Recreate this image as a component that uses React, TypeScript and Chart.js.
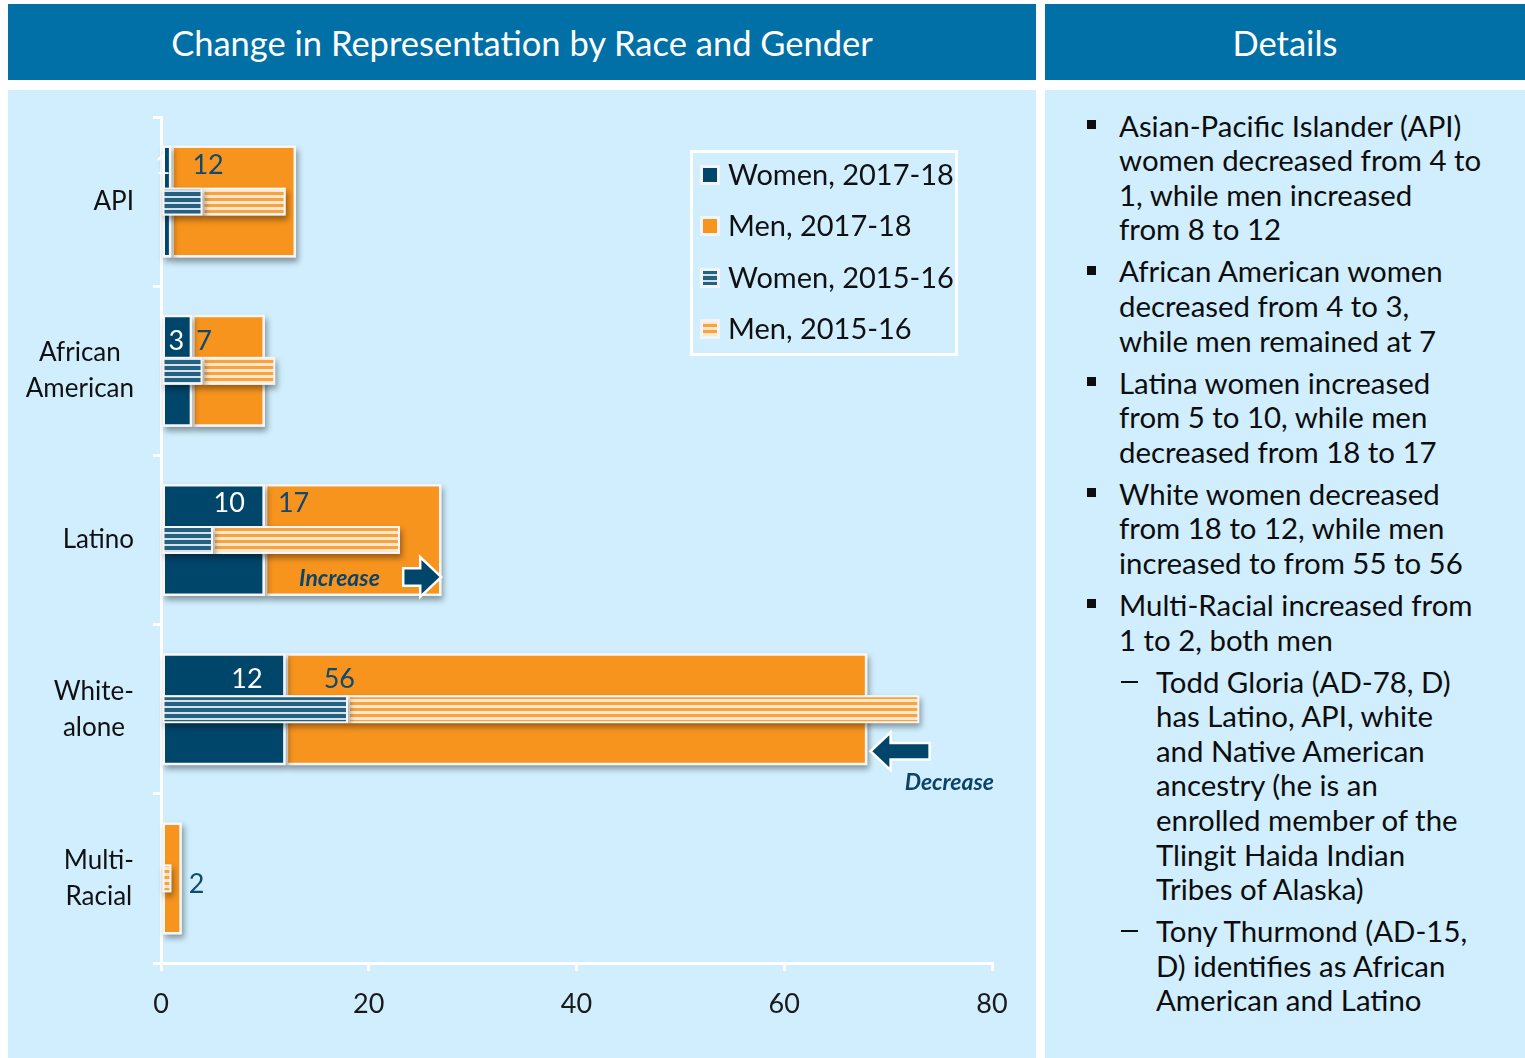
import React, { useEffect, useRef } from "react";
import { Chart, registerables } from "chart.js";
Chart.register(...registerables);

// ---------- data ----------
const categories: string[][] = [["API"], ["African", "American"], ["Latino"], ["White-", "alone"], ["Multi-", "Racial"]];
const women1718 = [1, 3, 10, 12, 0];
const men1718 = [12, 7, 17, 56, 2];
const women1516 = [4, 4, 5, 18, 0];
const men1516 = [8, 7, 18, 55, 1];
const xTicks = [0, 20, 40, 60, 80];
const seriesLabels = ["Women, 2017-18", "Men, 2017-18", "Women, 2015-16", "Men, 2015-16"];
const increaseText = "Increase";
const decreaseText = "Decrease";

// ---------- style ----------
const HEADER = "#0070A7";
const LIGHT = "#D0EEFD";
const NAVY = "#00466B";
const ORANGE = "#F7941E";
const LABEL_NAVY = "#0F4870";
const FONT = "Lato";
// per-label nudges (px) for the value labels
const womenLabelInset = [1, 8, 20, 23, 0];
const menLabelOffset = [21, 4, 13, 38, 0];
const labelRise = [36, 30, 37, 30, 0];

const details: { sub?: boolean; lines: string[] }[] = [
  { lines: ["Asian-Pacific Islander (API)", "women decreased from 4 to", "1, while men increased", "from 8 to 12"] },
  { lines: ["African American women", "decreased from 4 to 3,", "while men remained at 7"] },
  { lines: ["Latina women increased", "from 5 to 10, while men", "decreased from 18 to 17"] },
  { lines: ["White women decreased", "from 18 to 12, while men", "increased to from 55 to 56"] },
  { lines: ["Multi-Racial increased from", "1 to 2, both men"] },
  { sub: true, lines: ["Todd Gloria (AD-78, D)", "has Latino, API, white", "and Native American", "ancestry (he is an", "enrolled member of the", "Tlingit Haida Indian", "Tribes of Alaska)"] },
  { sub: true, lines: ["Tony Thurmond (AD-15,", "D) identifies as African", "American and Latino"] },
];

function blockArrow(ctx: CanvasRenderingContext2D, tipX: number, cy: number, dir: number, len: number, headLen: number, headH: number, shaftH: number) {
  const baseX = tipX - dir * len;
  const neckX = tipX - dir * headLen;
  ctx.save();
  ctx.beginPath();
  ctx.moveTo(baseX, cy - shaftH / 2);
  ctx.lineTo(neckX, cy - shaftH / 2);
  ctx.lineTo(neckX, cy - headH / 2);
  ctx.lineTo(tipX, cy);
  ctx.lineTo(neckX, cy + headH / 2);
  ctx.lineTo(neckX, cy + shaftH / 2);
  ctx.lineTo(baseX, cy + shaftH / 2);
  ctx.closePath();
  ctx.lineJoin = "miter";
  ctx.strokeStyle = "#ffffff";
  ctx.lineWidth = 5;
  ctx.stroke();
  ctx.fillStyle = NAVY;
  ctx.fill();
  ctx.restore();
}

function barRect(el: any) {
  const p = el.getProps(["x", "y", "base", "height"], true);
  const left = Math.min(p.x, p.base);
  const right = Math.max(p.x, p.base);
  return { left, right, top: p.y - p.height / 2, bottom: p.y + p.height / 2, y: p.y, height: p.height };
}

export default function App() {
  const ref = useRef<HTMLCanvasElement>(null);

  useEffect(() => {
    document.body.style.margin = "0";
    const canvas = ref.current!;
    const ctx0 = canvas.getContext("2d")!;
    const mkPattern = (a: string, b: string, aH: number, bH: number) => {
      const c = document.createElement("canvas");
      c.width = 4;
      c.height = aH + bH;
      const g = c.getContext("2d")!;
      g.fillStyle = a;
      g.fillRect(0, 0, 4, aH);
      g.fillStyle = b;
      g.fillRect(0, aH, 4, bH);
      return ctx0.createPattern(c, "repeat")!;
    };
    const womenPattern = mkPattern("#24607F", "#D3E2EC", 4, 2);
    const menPattern = mkPattern("#F7A440", "#FDE8CC", 3, 3);

    const shadowPlugin = {
      id: "shadows",
      beforeDatasetDraw(chart: any, args: any) {
        const ctx = chart.ctx;
        const ds = chart.data.datasets[args.index];
        ctx.save();
        ctx.shadowColor = "rgba(0,0,0,0.38)";
        ctx.shadowBlur = 6;
        ctx.shadowOffsetX = 2;
        ctx.shadowOffsetY = 4;
        ctx.fillStyle = "#f4f4f4";
        args.meta.data.forEach((el: any, i: number) => {
          if (!ds.data[i]) return;
          const r = barRect(el);
          ctx.fillRect(r.left, r.top, r.right - r.left, r.bottom - r.top);
        });
        ctx.restore();
      },
    };

    const decorPlugin = {
      id: "decor",
      afterDatasetsDraw(chart: any) {
        const ctx: CanvasRenderingContext2D = chart.ctx;
        const metaW = chart.getDatasetMeta(2);
        const metaM = chart.getDatasetMeta(3);
        const yScale = chart.scales.y;
        ctx.save();
        ctx.font = `27px ${FONT}`;
        ctx.textBaseline = "middle";
        // value labels
        categories.forEach((_, i) => {
          const cy = yScale.getPixelForValue(i);
          const last = i === categories.length - 1;
          if (women1718[i]) {
            const r = barRect(metaW.data[i]);
            ctx.fillStyle = "#ffffff";
            ctx.textAlign = "right";
            ctx.fillText(String(women1718[i]), r.right - womenLabelInset[i], cy - labelRise[i]);
          }
          if (men1718[i]) {
            const r = barRect(metaM.data[i]);
            ctx.fillStyle = LABEL_NAVY;
            ctx.textAlign = "left";
            if (last) ctx.fillText(String(men1718[i]), r.right + 7, cy + 6);
            else ctx.fillText(String(men1718[i]), r.left + menLabelOffset[i], cy - labelRise[i]);
          }
        });
        // Increase annotation (Latino)
        const lat = barRect(metaM.data[2]);
        const latCy = yScale.getPixelForValue(2) + 37;
        blockArrow(ctx, lat.right - 2, latCy, 1, 35, 18, 34, 15);
        ctx.font = `italic bold 23px ${FONT}`;
        ctx.fillStyle = "#0B4468";
        ctx.textAlign = "center";
        ctx.fillText(increaseText, lat.right - 102, latCy + 2);
        // Decrease annotation (White)
        const wh = barRect(metaM.data[3]);
        const whCy = yScale.getPixelForValue(3) + 42;
        blockArrow(ctx, wh.right + 5, whCy, -1, 56, 17, 32, 14);
        ctx.fillText(decreaseText, wh.right + 82, whCy + 31);
        ctx.restore();
      },
      afterDraw(chart: any) {
        const ctx: CanvasRenderingContext2D = chart.ctx;
        const yScale = chart.scales.y;
        ctx.save();
        // y category labels (block right aligned, lines centred)
        ctx.font = `26px ${FONT}`;
        ctx.fillStyle = "#111111";
        ctx.textBaseline = "middle";
        ctx.textAlign = "center";
        const rightEdge = chart.chartArea.left - 27;
        categories.forEach((lines, i) => {
          const cy = yScale.getPixelForValue(i);
          const w = Math.max(...lines.map((l) => ctx.measureText(l).width));
          const cx = rightEdge - w / 2;
          const lh = 36;
          lines.forEach((l, k) => {
            ctx.fillText(l, cx, cy + (k - (lines.length - 1) / 2) * lh);
          });
        });
        // legend
        const bx = 682, by = 60, bw = 268, bh = 206;
        ctx.strokeStyle = "#ffffff";
        ctx.lineWidth = 3;
        ctx.strokeRect(bx + 1.5, by + 1.5, bw - 3, bh - 3);
        const fills: any[] = [NAVY, ORANGE, womenPattern, menPattern];
        const rows = [85, 136, 188, 239];
        ctx.font = `29px ${FONT}`;
        ctx.textAlign = "left";
        seriesLabels.forEach((lab, i) => {
          const cy = rows[i];
          ctx.fillStyle = "#F2F5F7";
          ctx.fillRect(692, cy - 10, 20, 20);
          ctx.fillStyle = fills[i];
          ctx.fillRect(695, cy - 7, 14, 14);
          ctx.fillStyle = "#111111";
          ctx.fillText(lab, 720, cy + 1);
        });
        ctx.restore();
      },
    };

    let chart: Chart | null = null;
    let cancelled = false;
    const build = () => {
      if (cancelled) return;
      chart = new Chart(canvas, {
        type: "bar",
        data: {
          labels: categories.map((c) => c.join(" ")),
          datasets: [
            { label: seriesLabels[2], data: women1516, stack: "s1516", backgroundColor: womenPattern, borderColor: "#F6F6F6", borderWidth: 2, borderSkipped: false, barPercentage: 0.165, categoryPercentage: 1, grouped: false } as any,
            { label: seriesLabels[3], data: men1516, stack: "s1516", backgroundColor: menPattern, borderColor: "#F6F6F6", borderWidth: 2, borderSkipped: false, barPercentage: 0.165, categoryPercentage: 1, grouped: false } as any,
            { label: seriesLabels[0], data: women1718, stack: "s1718", backgroundColor: NAVY, borderColor: "#F6F6F6", borderWidth: 2.5, borderSkipped: false, barPercentage: 0.662, categoryPercentage: 1, grouped: false } as any,
            { label: seriesLabels[1], data: men1718, stack: "s1718", backgroundColor: ORANGE, borderColor: "#F6F6F6", borderWidth: 2.5, borderSkipped: false, barPercentage: 0.662, categoryPercentage: 1, grouped: false } as any,
          ],
        },
        options: {
          responsive: false,
          animation: false,
          indexAxis: "y",
          layout: { padding: { left: 0, top: 27, right: 44, bottom: 0 } },
          plugins: { legend: { display: false }, tooltip: { enabled: false } },
          scales: {
            x: {
              stacked: true,
              min: xTicks[0],
              max: xTicks[xTicks.length - 1],
              afterBuildTicks: (s: any) => { s.ticks = xTicks.map((v) => ({ value: v })); },
              ticks: { color: "#1a1a1a", font: { family: FONT, size: 27 }, padding: 17, maxRotation: 0 },
              grid: { drawOnChartArea: false, drawTicks: true, tickLength: 8, color: "#ffffff", lineWidth: 3 },
              border: { display: true, color: "#ffffff", width: 3 },
              afterFit: (s: any) => { s.height = 95; },
            } as any,
            y: {
              ticks: { display: false },
              grid: { offset: true, drawOnChartArea: false, drawTicks: true, tickLength: 8, color: "#ffffff", lineWidth: 3 },
              border: { display: true, color: "#ffffff", width: 3 },
              afterFit: (s: any) => { s.width = 153; },
            } as any,
          },
        },
        plugins: [shadowPlugin, decorPlugin],
      });
    };
    const fontsApi = (document as any).fonts;
    if (fontsApi && fontsApi.load) {
      Promise.all([fontsApi.load(`27px ${FONT}`), fontsApi.load(`italic bold 23px ${FONT}`)]).then(build, build);
    } else build();
    return () => {
      cancelled = true;
      if (chart) chart.destroy();
    };
  }, []);

  const LH = 34.6;
  return (
    <div style={{ position: "relative", width: 1525, height: 1058, background: "#ffffff", fontFamily: FONT, overflow: "hidden" }}>
      <div style={{ position: "absolute", left: 8, top: 4, width: 1028, height: 76, background: HEADER, color: "#fff", fontSize: 34.5, display: "flex", alignItems: "center", justifyContent: "center" }}>
        Change in Representation by Race and Gender
      </div>
      <div style={{ position: "absolute", left: 1045, top: 4, width: 480, height: 76, background: HEADER, color: "#fff", fontSize: 34.5, display: "flex", alignItems: "center", justifyContent: "center" }}>
        Details
      </div>
      <div style={{ position: "absolute", left: 8, top: 90, width: 1028, height: 968, background: LIGHT }}>
        <canvas ref={ref} width={1028} height={968} style={{ display: "block", width: 1028, height: 968 }} />
      </div>
      <div style={{ position: "absolute", left: 1045, top: 90, width: 480, height: 968, background: LIGHT, color: "#0d0d0d", fontSize: 29.4 }}>
        <div style={{ position: "absolute", left: 0, top: 18.7, width: 480 }}>
          {details.map((d, i) => (
            <div key={i} style={{ position: "relative", marginTop: i === 0 ? 0 : 7.4, paddingLeft: d.sub ? 111 : 74, lineHeight: `${LH}px`, whiteSpace: "nowrap" }}>
              {d.sub ? (
                <div style={{ position: "absolute", left: 76, top: LH / 2 - 1, width: 17, height: 2, background: "#0d0d0d" }} />
              ) : (
                <div style={{ position: "absolute", left: 42, top: LH / 2 - 6, width: 9, height: 9, background: "#0d0d0d" }} />
              )}
              {d.lines.map((l, k) => (
                <div key={k}>{l}</div>
              ))}
            </div>
          ))}
        </div>
      </div>
    </div>
  );
}
